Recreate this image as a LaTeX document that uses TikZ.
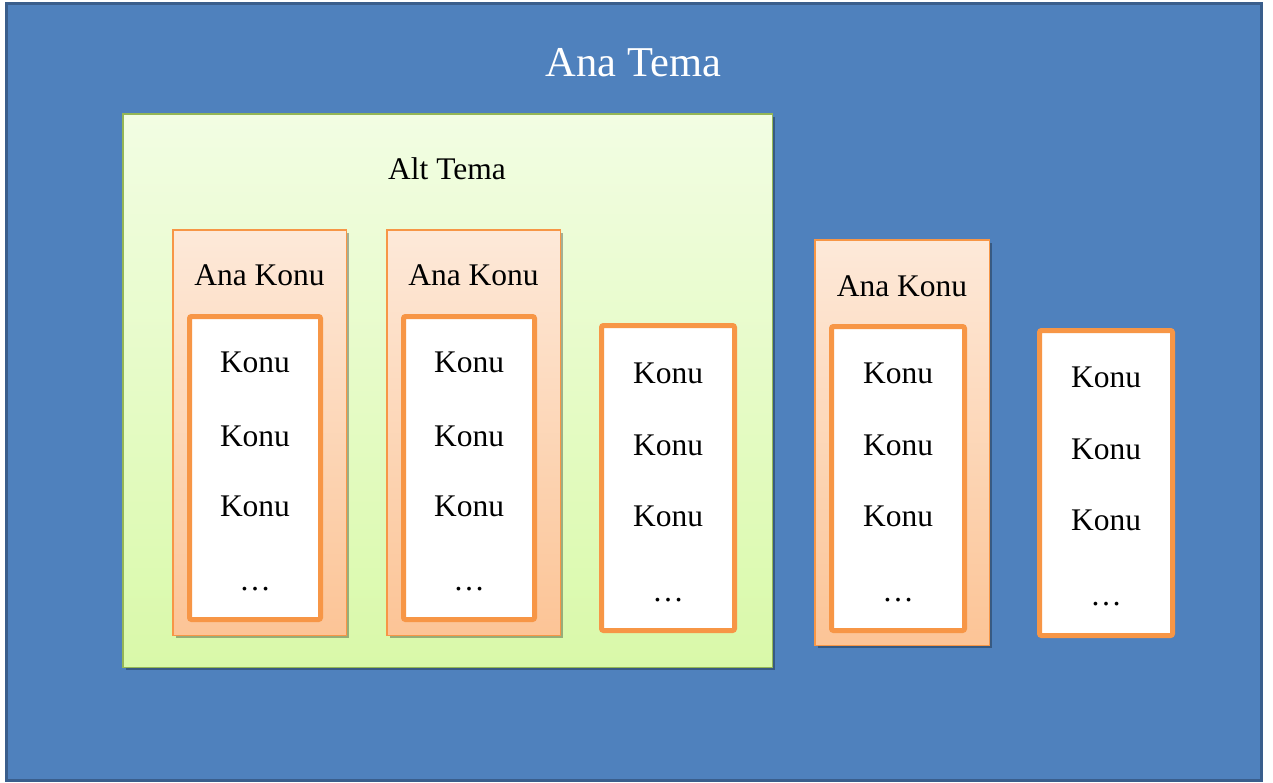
\documentclass[tikz,border=0pt]{standalone}
\usepackage{fontspec}
\setmainfont{Liberation Serif}
\usetikzlibrary{shadows}
\definecolor{outerblue}{HTML}{4F81BD}
\definecolor{outerline}{HTML}{3A5E8C}
\definecolor{altline}{HTML}{94B656}
\definecolor{alttop}{HTML}{F2FDE3}
\definecolor{altbot}{HTML}{D9F9A9}
\definecolor{orangeline}{HTML}{F79646}
\definecolor{anatop}{HTML}{FDE9D9}
\definecolor{anabot}{HTML}{FCC496}
\tikzset{
  outerbox/.style={draw=outerline, fill=outerblue, line width=3pt},
  altbox/.style={draw=altline, line width=1.5pt, top color=alttop, bottom color=altbot,
    drop shadow={shadow xshift=3pt, shadow yshift=-3pt, opacity=0.3, fill=black}},
  anabox/.style={draw=orangeline, line width=1.5pt, top color=anatop, bottom color=anabot,
    drop shadow={shadow xshift=3pt, shadow yshift=-3pt, opacity=0.3, fill=black}},
  konubox/.style={draw=orangeline, line width=5pt, fill=white, rounded corners=2pt},
  bigtxt/.style={font=\fontsize{42.5}{50}\selectfont, text=white, inner sep=0pt},
  txt/.style={font=\fontsize{31.5}{38}\selectfont, text=black, inner sep=0pt},
  box/.style={rectangle, inner sep=0pt, anchor=center}
}
\begin{document}
\begin{tikzpicture}[x=1pt, y=-1pt]
\useasboundingbox (0,0) rectangle (1273,782);
\node[box, outerbox, minimum width=1255pt, minimum height=777pt] (outer) at (633.5,391.5) {};
\node[bigtxt] (anatema) at (633.5,62.5) {Ana Tema};

% Alt Tema
\node[box, altbox, minimum width=649.5pt, minimum height=553.5pt] (alt) at (447.5,390.5) {};
\node[txt] (alttxt) at (447,168.5) {Alt Tema};

% Ana Konu 1
\node[box, anabox, minimum width=173.5pt, minimum height=405.5pt] (ak1) at (259.5,432.5) {};
\node[txt] (ak1t) at (259.5,275) {Ana Konu};
\node[box, konubox, minimum width=131pt, minimum height=303pt] (k1) at (255,468) {};
\node[txt] (k1a) at (255,362.5) {Konu};
\node[txt] (k1b) at (255,436) {Konu};
\node[txt] (k1c) at (255,506) {Konu};
\node[txt] (k1d) at (255,589) {…};

% Ana Konu 2
\node[box, anabox, minimum width=173.5pt, minimum height=405.5pt] (ak2) at (473.5,432.5) {};
\node[txt] (ak2t) at (473.5,275) {Ana Konu};
\node[box, konubox, minimum width=131pt, minimum height=303pt] (k2) at (469,468) {};
\node[txt] (k2a) at (469,362.5) {Konu};
\node[txt] (k2b) at (469,436) {Konu};
\node[txt] (k2c) at (469,506) {Konu};
\node[txt] (k2d) at (469,589) {…};

% Konu 3
\node[box, konubox, minimum width=133pt, minimum height=305pt] (k3) at (668,478) {};
\node[txt] (k3a) at (668,373.5) {Konu};
\node[txt] (k3b) at (668,445) {Konu};
\node[txt] (k3c) at (668,516) {Konu};
\node[txt] (k3d) at (668,600) {…};

% Ana Konu 4
\node[box, anabox, minimum width=174.5pt, minimum height=405.5pt] (ak4) at (902,442.5) {};
\node[txt] (ak4t) at (902,286) {Ana Konu};
\node[box, konubox, minimum width=133pt, minimum height=304pt] (k4) at (898,478.5) {};
\node[txt] (k4a) at (898,373.5) {Konu};
\node[txt] (k4b) at (898,445) {Konu};
\node[txt] (k4c) at (898,516) {Konu};
\node[txt] (k4d) at (898,600) {…};

% Konu 5
\node[box, konubox, minimum width=133pt, minimum height=305pt] (k5) at (1106,483) {};
\node[txt] (k5a) at (1106,377.5) {Konu};
\node[txt] (k5b) at (1106,449) {Konu};
\node[txt] (k5c) at (1106,520) {Konu};
\node[txt] (k5d) at (1106,604) {…};
\end{tikzpicture}
\end{document}
